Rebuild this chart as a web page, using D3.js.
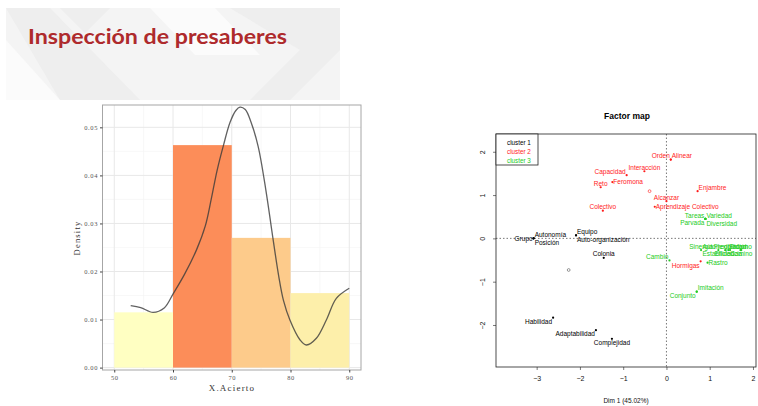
<!DOCTYPE html>
<html>
<head>
<meta charset="utf-8">
<script src="https://cdn.jsdelivr.net/npm/d3@7/dist/d3.min.js"></script>
<style>
  body { margin: 0; background: #fff; }
  svg { display: block; }
</style>
</head>
<body>
<svg class="slide" width="758" height="406"></svg>
<script>
// histogram of X.Acierto
const binStart = [50, 60, 70, 80]
const binDensity = [0.0115, 0.0463, 0.0270, 0.0155]
const binColor = ['#ffffc2', '#fc8d59', '#fdcb8b', '#fdefaa']
const densX = [52.8, 54.5, 56.6, 58.5, 60, 62, 64, 65.5, 66.5, 67.5, 68.6, 69.7, 70.7, 71.4, 72.3, 73.3, 74.5, 75.8, 77, 78, 78.8, 79.9, 81.6, 82.7, 84.4, 86.1, 87.8, 90]
const densY = [0.0129, 0.0125, 0.0115, 0.0124, 0.0153, 0.0195, 0.0245, 0.0295, 0.035, 0.041, 0.0463, 0.051, 0.0535, 0.0542, 0.0537, 0.051, 0.046, 0.037, 0.027, 0.019, 0.014, 0.0099, 0.0058, 0.0047, 0.0061, 0.0099, 0.0144, 0.0165]
const histXTicks = [50, 60, 70, 80, 90]
const histYTicks = [0, 0.01, 0.02, 0.03, 0.04, 0.05]

// factor map (dim 1, dim 2, cluster, label side)
const words = ['Orden', 'Alinear', 'Interacción', 'Capacidad', 'Reto', 'Feromona', 'Alcanzar', 'Aprendizaje Colectivo', 'Enjambre', 'Colectivo', 'Hormigas',
  'Tareas', 'Variedad', 'Parvada', 'Diversidad', 'Sinergia', 'Autorregulación', 'Flexibilidad', 'Entorno', 'Estabilidad', 'Eficiencia', 'Camino', 'Cambio', 'Rastro', 'Imitación', 'Conjunto',
  'Grupo', 'Autonomía', 'Posición', 'Equipo', 'Auto-organización', 'Colonia', 'Habilidad', 'Adaptabilidad', 'Complejidad']
const dim1 = [0.10, 0.10, -0.51, -0.92, -1.52, -1.25, 0.0, -0.27, 0.72, -1.47, 0.79,
  0.90, 0.90, 0.90, 0.90, 0.80, 1.36, 1.47, 1.71, 1.20, 1.43, 1.73, 0.07, 0.95, 0.70, 0.70,
  -3.07, -3.07, -3.07, -2.09, -2.09, -1.45, -2.62, -1.63, -1.26]
const dim2 = [1.82, 1.82, 1.55, 1.46, 1.18, 1.30, 0.86, 0.73, 1.09, 0.64, -0.53,
  0.45, 0.45, 0.45, 0.45, -0.27, -0.27, -0.27, -0.27, -0.27, -0.27, -0.27, -0.51, -0.56, -1.23, -1.23,
  0.0, 0.0, 0.0, 0.07, 0.07, -0.45, -1.83, -2.12, -2.32]
const cluster = [2, 2, 2, 2, 2, 2, 2, 2, 2, 2, 2,
  3, 3, 3, 3, 3, 3, 3, 3, 3, 3, 3, 3, 3, 3, 3,
  1, 1, 1, 1, 1, 1, 1, 1, 1]
const side = ['tl', 'tr', 't', 'tl', 't', 'r', 't', 'r', 'tr', 't', 'bl',
  'tl', 'tr', 'bl', 'br', 't', 't', 't', 't', 'b', 'b', 'b', 'tl', 'r', 'tr', 'bl',
  'l', 'tr', 'br', 'tr', 'br', 't', 'bl', 'bl', 'b']
const suppX = [-0.39, -2.26]
const suppY = [1.09, -0.73]
const suppCluster = [2, 1]
const clusterNames = ['cluster 1', 'cluster 2', 'cluster 3']
const clusterColor = ['#000000', '#ff1a1a', '#22cc22']
const dimXTicks = [-3, -2, -1, 0, 1, 2]
const dimYTicks = [-2, -1, 0, 1, 2]

const svg = d3.select('.slide')

// slide background decoration
const deco = svg.append('g')
deco.append('rect').attr('x', 6).attr('y', 8).attr('width', 334).attr('height', 92).attr('fill', '#f4f4f4')
const diamonds = [
  [[6, 8], [50, 8], [140, 100], [60, 100]],
  [[150, 8], [215, 8], [260, 55], [195, 55]],
  [[230, 8], [340, 8], [340, 50], [290, 100], [250, 100], [300, 50]],
  [[6, 100], [70, 100], [70, 230], [6, 160]],
  [[60, 8], [110, 8], [85, 33]],
  [[6, 40], [60, 100], [6, 100]]
]
diamonds.forEach((p, i) => {
  deco.append('polygon')
    .attr('points', p.map(d => d.join(',')).join(' '))
    .attr('fill', i % 2 ? '#ffffff' : '#e9e9e9')
    .attr('opacity', i === 3 ? 0.5 : 0.6)
})
svg.append('text')
  .attr('x', 28).attr('y', 44)
  .attr('font-family', 'Lato, "Open Sans", sans-serif')
  .attr('font-weight', 700)
  .attr('font-size', 21)
  .attr('textLength', 259)
  .attr('lengthAdjust', 'spacingAndGlyphs')
  .attr('fill', '#ae2a2c')
  .text('Inspección de presaberes')

// ---------- histogram ----------
const h = svg.append('g')
h.append('rect').attr('x', 70).attr('y', 100).attr('width', 302).attr('height', 297).attr('fill', '#fff')

const xL = d3.scaleLinear().domain([48, 92]).range([102.5, 361])
const yL = d3.scaleLinear().domain([-0.0005, 0.05465]).range([370, 105])
const serif = '"Liberation Serif", "DejaVu Serif", serif'

const minorX = [55, 65, 75, 85]
const minorY = [0.005, 0.015, 0.025, 0.035, 0.045]
h.selectAll('.minx').data(minorX).join('line')
  .attr('x1', d => xL(d)).attr('x2', d => xL(d)).attr('y1', 105).attr('y2', 370)
  .attr('stroke', '#f3f3f3').attr('stroke-width', 0.6)
h.selectAll('.miny').data(minorY).join('line')
  .attr('x1', 102.5).attr('x2', 361).attr('y1', d => yL(d)).attr('y2', d => yL(d))
  .attr('stroke', '#f3f3f3').attr('stroke-width', 0.6)
h.selectAll('.majx').data(histXTicks).join('line')
  .attr('x1', d => xL(d)).attr('x2', d => xL(d)).attr('y1', 105).attr('y2', 370)
  .attr('stroke', '#e8e8e8').attr('stroke-width', 1)
h.selectAll('.majy').data(histYTicks).join('line')
  .attr('x1', 102.5).attr('x2', 361).attr('y1', d => yL(d)).attr('y2', d => yL(d))
  .attr('stroke', '#e8e8e8').attr('stroke-width', 1)

h.selectAll('.bar').data(binStart).join('rect')
  .attr('x', d => xL(d))
  .attr('width', d => xL(d + 10) - xL(d))
  .attr('y', (d, i) => yL(binDensity[i]))
  .attr('height', (d, i) => yL(0) - yL(binDensity[i]))
  .attr('fill', (d, i) => binColor[i])

const dens = densX.map((d, i) => [d, densY[i]])
h.append('path')
  .attr('d', d3.line().x(d => xL(d[0])).y(d => yL(d[1])).curve(d3.curveCatmullRom)(dens))
  .attr('fill', 'none')
  .attr('stroke', '#3a3a3a')
  .attr('stroke-opacity', 0.8)
  .attr('stroke-width', 1.3)

h.append('rect').attr('x', 102.5).attr('y', 105).attr('width', 258.5).attr('height', 265)
  .attr('fill', 'none').attr('stroke', '#a6a6a6').attr('stroke-width', 1)

const axL = h.append('g').attr('transform', 'translate(102.5,0)')
  .call(d3.axisLeft(yL).tickValues(histYTicks).tickFormat(d3.format('.2f')).tickSize(2.5).tickPadding(2))
const axB = h.append('g').attr('transform', 'translate(0,370)')
  .call(d3.axisBottom(xL).tickValues(histXTicks).tickSize(2.5).tickPadding(3))
;[axL, axB].forEach(a => {
  a.select('.domain').remove()
  a.selectAll('line').attr('stroke', '#444')
  a.selectAll('text').attr('font-family', serif).attr('font-size', 6.5).attr('fill', '#555').attr('letter-spacing', 0.6)
})
h.append('text')
  .attr('x', 232).attr('y', 391)
  .attr('text-anchor', 'middle')
  .attr('font-family', serif).attr('font-size', 9).attr('letter-spacing', 1.2).attr('fill', '#333')
  .text('X.Acierto')
h.append('text')
  .attr('transform', 'translate(80,238) rotate(-90)')
  .attr('text-anchor', 'middle')
  .attr('font-family', serif).attr('font-size', 8.5).attr('letter-spacing', 1.2).attr('fill', '#333')
  .text('Density')

// ---------- factor map ----------
const f = svg.append('g')
const sans = '"Liberation Sans", Arial, sans-serif'
const xR = d3.scaleLinear().domain([-3.94, 2.07]).range([496, 756])
const yR = d3.scaleLinear().domain([-2.97, 2.41]).range([367, 134])

f.append('text')
  .attr('x', 627).attr('y', 119)
  .attr('text-anchor', 'middle')
  .attr('font-family', sans).attr('font-weight', 700).attr('font-size', 8.5)
  .text('Factor map')

f.append('line')
  .attr('x1', 496).attr('x2', 756).attr('y1', yR(0)).attr('y2', yR(0))
  .attr('stroke', '#555').attr('stroke-width', 0.8).attr('stroke-dasharray', '1.5,2')
f.append('line')
  .attr('x1', xR(0)).attr('x2', xR(0)).attr('y1', 134).attr('y2', 367)
  .attr('stroke', '#555').attr('stroke-width', 0.8).attr('stroke-dasharray', '1.5,2')

f.append('rect').attr('x', 496).attr('y', 134).attr('width', 260).attr('height', 233)
  .attr('fill', 'none').attr('stroke', '#222').attr('stroke-width', 0.8)

const minus = d => d < 0 ? '\u2212' + (-d) : d
const axX = f.append('g').attr('transform', 'translate(0,367)')
  .call(d3.axisBottom(xR).tickValues(dimXTicks).tickFormat(minus).tickSize(3).tickPadding(6))
const axY = f.append('g').attr('transform', 'translate(496,0)')
  .call(d3.axisLeft(yR).tickValues(dimYTicks).tickFormat(minus).tickSize(3).tickPadding(8))
;[axX, axY].forEach(a => {
  a.select('.domain').remove()
  a.selectAll('line').attr('stroke', '#222').attr('stroke-width', 0.6)
  a.selectAll('text').attr('font-family', sans).attr('font-size', 7).attr('fill', '#111')
})
axY.selectAll('text')
  .attr('text-anchor', 'middle').attr('dy', '0.32em').attr('x', -13)
  .attr('transform', 'rotate(-90,-13,0)')

f.append('text')
  .attr('x', 626).attr('y', 403)
  .attr('text-anchor', 'middle')
  .attr('font-family', sans).attr('font-size', 6.5).attr('fill', '#111')
  .text('Dim 1 (45.02%)')

// legend
f.append('rect').attr('x', 496).attr('y', 134).attr('width', 42).attr('height', 31)
  .attr('fill', '#fff').attr('stroke', '#222').attr('stroke-width', 0.8)
f.selectAll('.leg').data(clusterNames).join('text')
  .attr('x', 507).attr('y', (d, i) => 144.5 + i * 9.4)
  .attr('font-family', sans).attr('font-size', 6.3)
  .attr('fill', (d, i) => clusterColor[i])
  .text(d => d)

const pts = words.map((w, i) => ({ w, x: dim1[i], y: dim2[i], c: cluster[i], s: side[i] }))
f.selectAll('.pt').data(pts).join('circle')
  .attr('cx', d => xR(d.x)).attr('cy', d => yR(d.y)).attr('r', 1.1)
  .attr('fill', d => clusterColor[d.c - 1])

const place = {
  t: [0, -1.5, 'middle'], b: [0, 6, 'middle'],
  l: [-1, 2.3, 'end'], r: [1, 2.3, 'start'],
  tl: [-1, -1.2, 'end'], tr: [1, -1.2, 'start'],
  bl: [-1, 6.3, 'end'], br: [1, 6.8, 'start']
}
f.selectAll('.lab').data(pts).join('text')
  .attr('x', d => xR(d.x) + place[d.s][0])
  .attr('y', d => yR(d.y) + place[d.s][1])
  .attr('text-anchor', d => place[d.s][2])
  .attr('font-family', sans).attr('font-size', 6.5)
  .attr('fill', d => clusterColor[d.c - 1])
  .text(d => d.w)

f.selectAll('.supp').data(suppX).join('circle')
  .attr('cx', d => xR(d)).attr('cy', (d, i) => yR(suppY[i])).attr('r', 1.4)
  .attr('fill', 'none').attr('stroke-width', 0.6)
  .attr('stroke', (d, i) => suppCluster[i] === 1 ? '#555' : clusterColor[suppCluster[i] - 1])
</script>
</body>
</html>
